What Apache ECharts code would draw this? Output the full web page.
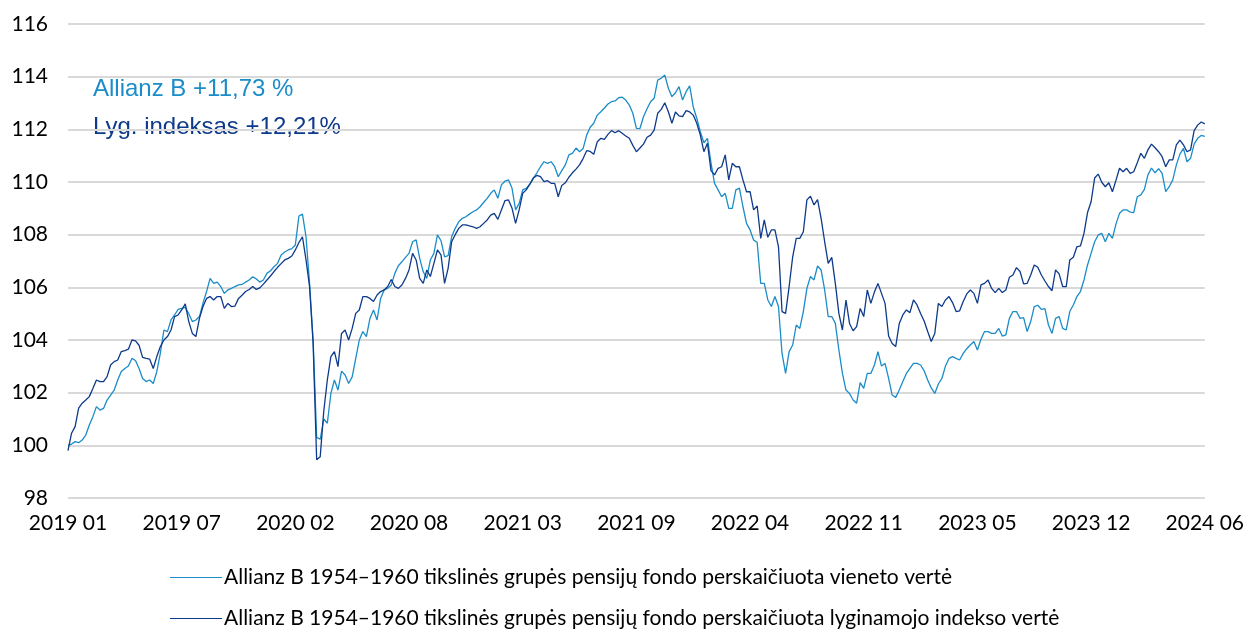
<!DOCTYPE html>
<html>
<head>
<meta charset="utf-8">
<script src="https://cdn.jsdelivr.net/npm/echarts@6/dist/echarts.min.js"></script>
<style>
  html, body { margin: 0; padding: 0; background: #fff; }
  #chart { width: 1247px; height: 634px; }
</style>
</head>
<body>
<div id="chart"></div>
<script>
// ašies žymės (kas 32 taškus)
var tickLabels = ['2019 01', '2019 07', '2020 02', '2020 08', '2021 03', '2021 09',
                  '2022 04', '2022 11', '2023 05', '2023 12', '2024 06'];
var seriesNames = ['Allianz B 1954–1960 tikslinės grupės pensijų fondo perskaičiuota vieneto vertė',
                   'Allianz B 1954–1960 tikslinės grupės pensijų fondo perskaičiuota lyginamojo indekso vertė'];

// vieneto vertė
var fund = [
  100.0, 100.05, 100.14, 100.1, 100.2, 100.39, 100.77, 101.09, 101.47, 101.34,
  101.4, 101.72, 101.91, 102.1, 102.48, 102.8, 102.92, 103.01, 103.3, 103.22,
  102.92, 102.54, 102.42, 102.48, 102.35, 102.8, 103.5, 104.38, 104.32, 104.76,
  104.95, 105.16, 105.2, 105.24, 105.0, 104.7, 104.76, 104.89, 105.4, 105.84,
  106.34, 106.15, 106.2, 106.03, 105.77, 105.9, 105.96, 106.03, 106.09, 106.11,
  106.2, 106.28, 106.4, 106.32, 106.2, 106.28, 106.53, 106.63, 106.78, 106.91,
  107.23, 107.34, 107.42, 107.47, 107.61, 108.71, 108.78, 107.92, 106.15, 104.0,
  100.3, 100.23, 101.0, 100.84, 101.97, 102.48, 102.1, 102.82, 102.67, 102.35,
  102.6, 103.3, 104.0, 104.32, 104.13, 104.82, 105.14, 104.76, 105.58, 105.9,
  105.96, 106.09, 106.53, 106.82, 106.97, 107.14, 107.29, 107.73, 107.8, 107.1,
  106.59, 106.34, 107.04, 107.29, 107.99, 107.77, 107.16, 107.2, 107.92, 108.24,
  108.49, 108.62, 108.68, 108.78, 108.87, 108.94, 109.06, 109.22, 109.38, 109.57,
  109.7, 109.38, 109.89, 110.03, 110.08, 109.76, 108.94, 109.19, 109.7, 109.76,
  109.92, 110.15, 110.35, 110.58, 110.77, 110.71, 110.77, 110.58, 110.2, 110.43,
  110.65, 111.03, 111.09, 111.29, 111.15, 111.27, 111.78, 112.08, 112.23, 112.54,
  112.67, 112.81, 112.96, 113.05, 113.08, 113.2, 113.22, 113.11, 112.92, 112.61,
  112.04, 112.03, 112.48, 112.78, 113.05, 113.18, 113.87, 113.94, 114.06, 113.56,
  113.24, 113.39, 113.62, 113.11, 113.43, 113.65, 112.86, 112.42, 111.91, 111.49,
  111.66, 110.73, 109.95, 109.7, 109.44, 109.57, 109.0, 109.0, 109.7, 109.77,
  109.06, 108.43, 108.18, 107.8, 107.7, 106.15, 106.15, 105.52, 105.27, 105.65,
  105.27, 103.49, 102.73, 103.56, 103.81, 104.57, 104.44, 105.08, 105.96, 106.41,
  106.28, 106.81, 106.66, 105.9, 104.89, 104.89, 104.63, 103.62, 102.73, 102.1,
  101.97, 101.72, 101.6, 102.38, 102.16, 102.73, 102.73, 103.05, 103.56, 103.01,
  103.11, 102.54, 101.91, 101.82, 102.1, 102.42, 102.73, 102.92, 103.11, 103.11,
  103.05, 102.83, 102.48, 102.18, 101.97, 102.33, 102.54, 103.01, 103.3, 103.37,
  103.3, 103.24, 103.49, 103.67, 103.81, 103.94, 103.62, 104.03, 104.32, 104.32,
  104.25, 104.25, 104.44, 104.15, 104.19, 104.82, 105.08, 105.08, 104.82, 104.85,
  104.32, 104.7, 105.27, 105.32, 105.16, 105.19, 104.57, 104.25, 104.82, 104.89,
  104.44, 104.38, 105.08, 105.33, 105.65, 105.84, 106.28, 106.85, 107.29, 107.73,
  107.99, 108.05, 107.73, 108.05, 107.86, 108.4, 108.81, 108.94, 108.94, 108.86,
  108.84, 109.44, 109.51, 109.72, 110.27, 110.53, 110.35, 110.51, 110.33, 109.63,
  109.82, 110.08, 110.65, 111.06, 111.28, 110.77, 110.9, 111.44, 111.66, 111.77,
  111.73
];

// lyginamasis indeksas
var bench = [
  99.8, 100.46, 100.71, 101.41, 101.6, 101.72, 101.85, 102.16, 102.48, 102.42,
  102.42, 102.61, 103.05, 103.18, 103.24, 103.56, 103.6, 103.65, 104.0, 103.97,
  103.8, 103.34, 103.3, 103.27, 102.92, 103.37, 103.75, 104.0, 104.13, 104.38,
  104.89, 104.95, 105.14, 105.37, 104.7, 104.25, 104.13, 104.82, 105.27, 105.58,
  105.65, 105.52, 105.65, 105.65, 105.2, 105.39, 105.27, 105.29, 105.58, 105.7,
  105.84, 105.92, 106.03, 105.92, 105.98, 106.12, 106.28, 106.43, 106.6, 106.76,
  106.9, 107.04, 107.1, 107.19, 107.42, 107.7, 107.92, 107.04, 106.03, 103.87,
  99.45, 99.57, 101.3, 102.48, 103.37, 103.56, 102.99, 104.25, 104.38, 104.0,
  104.44, 105.01, 105.14, 105.65, 105.65, 105.58, 105.46, 105.71, 105.84, 105.9,
  106.03, 106.3, 106.03, 105.96, 106.09, 106.34, 106.66, 107.29, 107.04, 106.34,
  106.15, 106.66, 106.41, 106.91, 107.42, 107.23, 106.15, 106.72, 107.73, 108.0,
  108.24, 108.37, 108.37, 108.33, 108.3, 108.24, 108.3, 108.43, 108.56, 108.74,
  108.81, 108.58, 108.94, 109.29, 109.32, 109.0, 108.43, 108.94, 109.57, 109.7,
  109.92, 110.15, 110.25, 110.2, 110.01, 110.05, 109.95, 109.95, 109.44, 109.87,
  109.97, 110.18, 110.35, 110.49, 110.65, 110.89, 111.19, 111.16, 111.05, 111.53,
  111.66, 111.62, 111.81, 111.95, 111.87, 111.95, 111.85, 111.75, 111.66, 111.39,
  111.15, 111.29, 111.44, 111.7, 111.78, 111.97, 112.61, 112.76, 113.01, 112.67,
  112.23, 112.66, 112.51, 112.48, 112.71, 112.66, 112.54, 112.23, 111.78, 111.15,
  111.47, 110.43, 110.27, 110.52, 110.58, 111.03, 110.08, 110.71, 110.58, 110.58,
  110.08, 109.63, 109.63, 108.94, 109.09, 107.86, 108.56, 107.9, 108.18, 108.18,
  107.54, 105.08, 105.01, 106.03, 107.16, 107.86, 107.86, 108.11, 109.32, 109.46,
  109.13, 109.33, 108.62, 107.73, 106.91, 107.14, 106.15, 105.01, 104.38, 105.52,
  104.63, 104.35, 104.51, 105.2, 104.89, 105.9, 105.39, 105.82, 106.15, 105.77,
  105.39, 104.15, 103.87, 103.75, 104.63, 104.95, 105.14, 105.04, 105.52, 105.33,
  105.01, 104.72, 104.32, 103.94, 104.25, 105.39, 105.27, 105.52, 105.65, 105.42,
  105.08, 105.11, 105.46, 105.75, 105.9, 105.77, 105.39, 106.09, 106.15, 106.28,
  105.96, 105.8, 105.96, 105.8, 105.9, 106.38, 106.47, 106.75, 106.6, 106.13,
  106.15, 106.47, 106.85, 106.76, 106.47, 106.24, 106.03, 105.87, 106.66, 106.51,
  106.03, 106.03, 107.04, 107.14, 107.54, 107.57, 108.05, 108.84, 109.25, 110.15,
  110.3, 109.99, 109.82, 109.97, 109.63, 110.06, 110.52, 110.39, 110.52, 110.33,
  110.39, 110.73, 111.09, 110.9, 111.22, 111.44, 111.3, 111.15, 110.96, 110.58,
  110.84, 110.84, 111.41, 111.59, 111.41, 111.15, 111.22, 111.95, 112.16, 112.28,
  112.21
];

var labelStep = 32;
var categories = fund.map(function (v, i) { return String(i); });

var chart = echarts.init(document.getElementById('chart'));

var option = {
    animation: false,
    color: ['#1a8cc8', '#0d3a8a'],
    grid: {
        left: 68,
        right: 41,
        top: 24,
        bottom: 136
    },
    xAxis: {
        type: 'category',
        boundaryGap: false,
        data: categories,
        axisLine: { show: false },
        axisTick: { show: false },
        axisLabel: {
            interval: labelStep - 1,
            margin: 15,
            fontFamily: 'Lato',
            fontSize: 21,
            color: '#000',
            formatter: function (value, index) {
                return tickLabels[Math.round(index / labelStep)] || '';
            }
        },
        splitLine: { show: false }
    },
    yAxis: {
        type: 'value',
        min: 98,
        max: 116,
        interval: 2,
        axisLine: { show: false },
        axisTick: { show: false },
        axisLabel: {
            margin: 20,
            fontFamily: 'Lato',
            fontSize: 21,
            color: '#000'
        },
        splitLine: {
            lineStyle: { color: '#d9d9d9', width: 2 }
        }
    },
    legend: {
        orient: 'vertical',
        left: 170,
        top: 567,
        height: 67,
        padding: 0,
        itemGap: 20,
        itemWidth: 52,
        itemHeight: 1,
        icon: 'rect',
        textStyle: {
            fontFamily: 'Lato',
            fontSize: 21,
            color: '#000',
            padding: [0, 0, 0, -3]
        },
        data: seriesNames
    },
    graphic: [
        {
            type: 'text',
            left: 93,
            top: 77,
            style: {
                text: 'Allianz B +11,73 %',
                fontFamily: 'Liberation Sans',
                fontSize: 24,
                fill: '#1a8cc8'
            }
        },
        {
            type: 'text',
            left: 93,
            top: 115,
            style: {
                text: 'Lyg. indeksas +12,21%',
                fontFamily: 'Liberation Sans',
                fontSize: 24,
                fill: '#0d3a8a'
            }
        }
    ],
    series: [
        {
            name: seriesNames[0],
            type: 'line',
            data: fund,
            showSymbol: false,
            lineStyle: { width: 1.3 }
        },
        {
            name: seriesNames[1],
            type: 'line',
            data: bench,
            showSymbol: false,
            lineStyle: { width: 1.3 }
        }
    ]
};

chart.setOption(option);
</script>
</body>
</html>
